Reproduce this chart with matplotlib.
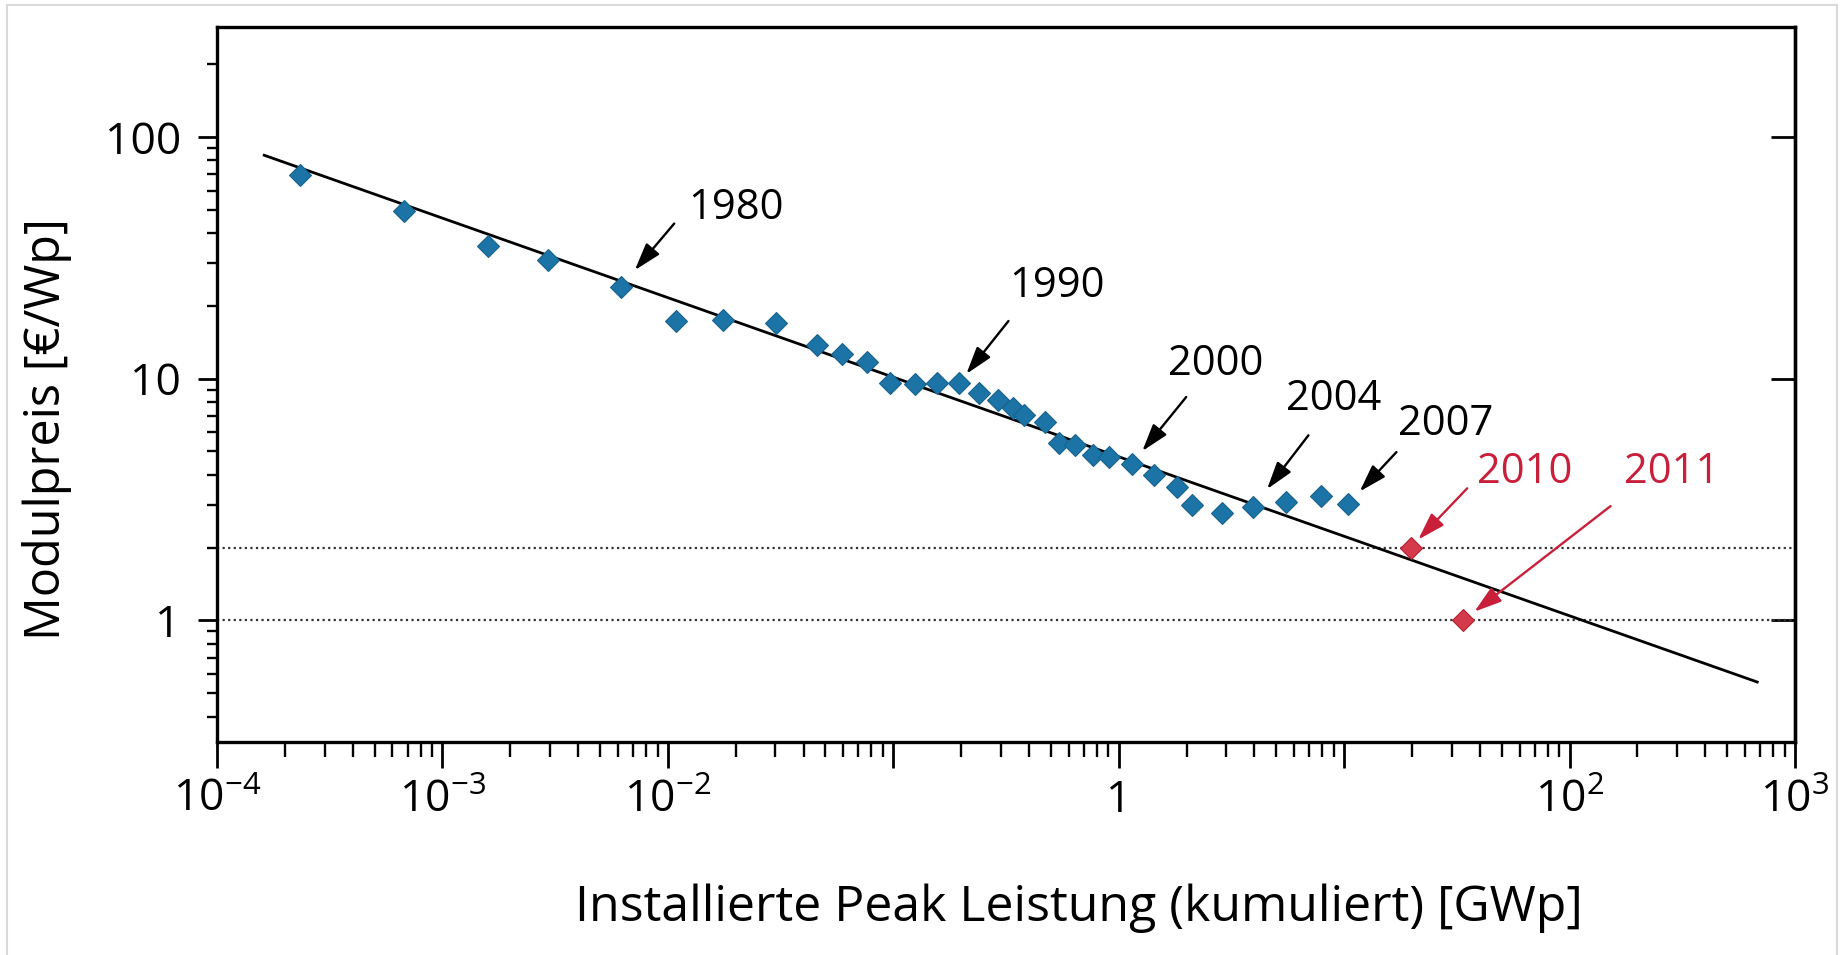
import numpy as np
import matplotlib
matplotlib.use("Agg")
import matplotlib.pyplot as plt
from matplotlib.ticker import LogLocator, NullLocator, FixedLocator, FixedFormatter

plt.rcParams['font.family'] = ['Open Sans', 'DejaVu Sans']
plt.rcParams['mathtext.fontset'] = 'custom'
plt.rcParams['mathtext.rm'] = 'Open Sans'
plt.rcParams['mathtext.default'] = 'regular'

# cumulative installed peak power [GWp] and module price [EUR/Wp]
leistung = [2.33e-4, 6.76e-4, 1.60e-3, 2.94e-3, 6.18e-3, 0.0109, 0.0175, 0.0303,
            0.0459, 0.0595, 0.0762, 0.0964, 0.125, 0.156, 0.196, 0.240, 0.290,
            0.338, 0.380, 0.473, 0.541, 0.640, 0.766, 0.908, 1.146, 1.436,
            1.814, 2.12, 2.86, 3.96, 5.50, 7.88, 10.4]
preis = [69.5, 49.4, 35.3, 30.9, 24.0, 17.4, 17.5, 17.0, 13.8, 12.6, 11.7, 9.6,
         9.5, 9.6, 9.6, 8.73, 8.14, 7.54, 7.06, 6.62, 5.40, 5.30, 4.82, 4.74,
         4.45, 3.98, 3.56, 2.99, 2.77, 2.95, 3.09, 3.27, 3.03]
leistung_neu = [19.7, 33.7]   # 2010, 2011
preis_neu = [2.0, 1.0]

fit_x = [1.62e-4, 680]
fit_y = [84, 0.556]
ref_preise = [2, 1]

jahre = ['1980', '1990', '2000', '2004', '2007']
jahr_idx = [4, 14, 24, 29, 32]
jahre_neu = ['2010', '2011']

xticks = [1e-4, 1e-3, 1e-2, 1e-1, 1, 1e1, 1e2, 1e3]
xticklabels = ['$10^{-4}$', '$10^{-3}$', '$10^{-2}$', '', '1', '', '$10^{2}$', '$10^{3}$']
yticks = [1, 10, 100]

blau = '#1c74a6'
rot = '#d43a4a'

fig = plt.figure(figsize=(18.43, 9.55), dpi=100)
ax = fig.add_axes([217/1843, 1-742/955, (1795-217)/1843, (742-27)/955])

ax.set_xscale('log')
ax.set_yscale('log')

for p in ref_preise:
    ax.axhline(p, ls=(0, (1, 1.5)), lw=1.6, color='#333333', zorder=1)
ax.plot(fit_x, fit_y, color='black', lw=2.0, zorder=2)
ax.plot(leistung, preis, 'D', ms=11, color=blau, mec='#17638f', mew=0.8, zorder=3)
ax.plot(leistung_neu, preis_neu, 'D', ms=11, color=rot, mec='#b02231', mew=0.8, zorder=3)

ax.set_xlim(1e-4, 1e3)
ax.set_ylim(0.314, 285)

# annotations (offsets in points)
head_off = [(10.2, 11.9), (2.5, 7.9), (6.6, 9.6), (7.4, 14.3), (8.9, 8.6)]
tail_off = [(38.5, 45.5), (35.5, 44.6), (39, 48), (39.6, 51.5), (34.9, 37.4)]
text_off = [(83, 56.5), (70.5, 69.6), (60, 72), (58, 77.4), (70, 57.9)]
head_off_neu = [(6.8, 4.3), (7.3, 7.2)]
tail_off_neu = [(40.8, 42.7), (106.2, 82.3)]
text_off_neu = [(82, 54.7), (150.5, 106.8)]

def pfeil(x, y, h, t, txt, tpos, col):
    ax.annotate('', xy=(x, y), xytext=t, textcoords='offset points',
                arrowprops=dict(arrowstyle='-|>,head_length=0.7,head_width=0.22',
                                mutation_scale=24, color=col, lw=1.7,
                                shrinkA=0, shrinkB=np.hypot(*h)), zorder=4)
    ax.annotate(txt, xy=(x, y), xytext=tpos, textcoords='offset points',
                ha='center', va='center', fontsize=30, color=col)

for i, j in enumerate(jahr_idx):
    pfeil(leistung[j], preis[j], head_off[i], tail_off[i], jahre[i], text_off[i], 'black')
for i in range(len(jahre_neu)):
    pfeil(leistung_neu[i], preis_neu[i], head_off_neu[i], tail_off_neu[i],
          jahre_neu[i], text_off_neu[i], '#c8203a')

ax.xaxis.set_major_locator(FixedLocator(xticks))
ax.xaxis.set_major_formatter(FixedFormatter(xticklabels))
ax.xaxis.set_minor_locator(LogLocator(base=10, subs=np.arange(2, 10), numticks=20))
ax.yaxis.set_major_locator(FixedLocator(yticks))
ax.yaxis.set_major_formatter(FixedFormatter([str(v) for v in yticks]))
ax.yaxis.set_minor_locator(LogLocator(base=10, subs=np.arange(2, 10), numticks=20))
ax.xaxis.set_minor_formatter(plt.NullFormatter())
ax.yaxis.set_minor_formatter(plt.NullFormatter())

ax.tick_params(axis='x', which='major', direction='out', length=19, width=2.0,
               labelsize=32, pad=7)
ax.tick_params(axis='x', which='minor', direction='out', length=11, width=1.7)
ax.tick_params(axis='y', which='major', direction='out', length=14, width=2.0,
               labelsize=32, pad=12)
ax.tick_params(axis='y', which='minor', direction='out', length=7, width=1.7)
ax.tick_params(top=False, right=False, which='both')

for s in ax.spines.values():
    s.set_linewidth(2.4)

sec = ax.secondary_yaxis('right')
sec.yaxis.set_major_locator(FixedLocator(yticks))
sec.yaxis.set_minor_locator(NullLocator())
sec.tick_params(direction='in', length=17, width=2.0, labelright=False)
sec.spines['right'].set_linewidth(2.4)

fig.text(1079/1843, 1-908/955, 'Installierte Peak Leistung (kumuliert) [GWp]',
         ha='center', va='center', fontsize=36)
fig.text(47/1843, 1-429/955, 'Modulpreis [€/Wp]', rotation=90,
         ha='center', va='center', fontsize=35)

# light frame of the original image
fig.add_artist(plt.Line2D([7/1843, 7/1843], [0, 1-5/955], transform=fig.transFigure,
                          color='#d9d9d9', lw=1.5))
fig.add_artist(plt.Line2D([7/1843, 1837/1843], [1-5/955, 1-5/955], transform=fig.transFigure,
                          color='#d9d9d9', lw=1.5))
fig.add_artist(plt.Line2D([1837/1843, 1837/1843], [0, 1-5/955], transform=fig.transFigure,
                          color='#d9d9d9', lw=1.5))

fig.savefig('out.png', dpi=100)
